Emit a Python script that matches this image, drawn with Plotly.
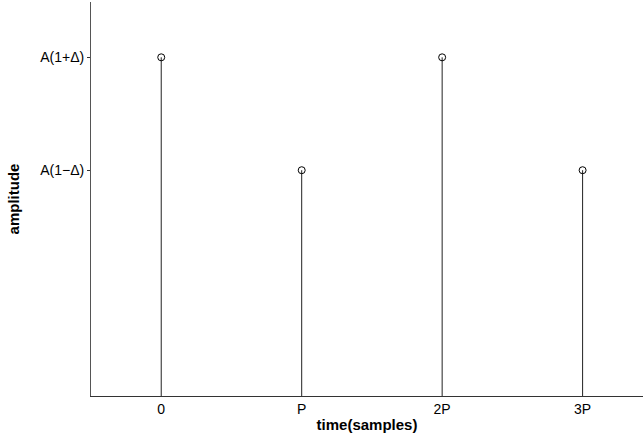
import plotly.graph_objects as go

# data
x_vals = [0, 1, 2, 3]
x_tick_labels = ["0", "P", "2P", "3P"]
amplitudes = [1.5, 1.0, 1.5, 1.0]
y_tick_vals = [1.0, 1.5]
y_tick_labels = ["A(1\u2212\u0394)", "A(1+\u0394)"]

# stems built from data
stem_x, stem_y = [], []
for xv, yv in zip(x_vals, amplitudes):
    stem_x += [xv, xv, None]
    stem_y += [0, yv, None]

fig = go.Figure()
fig.add_trace(go.Scatter(x=stem_x, y=stem_y, mode="lines",
                         line=dict(color="#222222", width=1), hoverinfo="skip",
                         showlegend=False))
fig.add_trace(go.Scatter(x=x_vals, y=amplitudes, mode="markers",
                         marker=dict(symbol="circle-open", size=7,
                                     color="black", line=dict(width=1)),
                         showlegend=False))

font = "Liberation Sans, Arial, Helvetica, sans-serif"
fig.update_layout(
    width=643, height=441,
    margin=dict(l=91, r=0, t=2, b=45),
    plot_bgcolor="white", paper_bgcolor="white",
    font=dict(family=font, size=14, color="black"),
    xaxis=dict(range=[-0.5, 3.43], tickvals=x_vals, ticktext=x_tick_labels,
               showgrid=False, zeroline=False, showline=True,
               linecolor="#333333", linewidth=1, ticks="",
               title=dict(text="<b>time(samples)</b>", font=dict(size=15),
                          standoff=3)),
    yaxis=dict(range=[0, 1.745], tickvals=y_tick_vals, ticktext=y_tick_labels,
               showgrid=False, zeroline=False, showline=True,
               linecolor="#555555", linewidth=1, ticks="outside",
               ticklen=3, tickcolor="#333333", ticklabelstandoff=0,
               title=dict(text="<b>amplitude</b>", font=dict(size=15),
                          standoff=16)),
)

fig.write_html("out.html")
